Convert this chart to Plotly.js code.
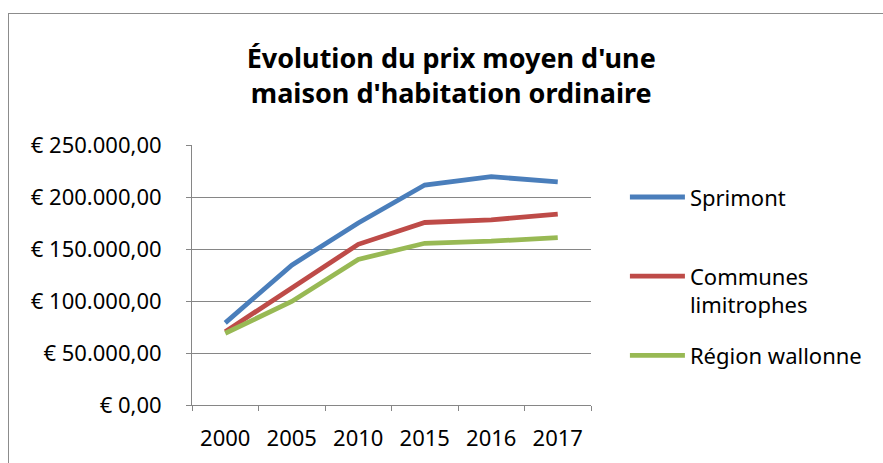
<!DOCTYPE html>
<html>
<head>
<meta charset="utf-8">
<script src="https://cdn.plot.ly/plotly-3.0.1.min.js"></script>
<style>
  html, body { margin: 0; padding: 0; background: #fff; overflow: hidden; }
  #frame { position: absolute; left: 8px; top: 13px; width: 900px; height: 500px; border: 1px solid #8c8c8c; box-sizing: border-box; }
  #chart { position: absolute; left: 0; top: 0; width: 883px; height: 463px; }
</style>
</head>
<body>
<div id="frame"></div>
<div id="chart"></div>
<script>
const years = ["2000", "2005", "2010", "2015", "2016", "2017"];
const sprimont = [79000, 134500, 175000, 211500, 219500, 214500];
const communes = [70500, 112000, 154500, 175500, 178000, 183500];
const wallonie = [69000, 99500, 140000, 155500, 157500, 161000];
const seriesNames = ["Sprimont<br>\u00a0", "Communes<br>limitrophes", "Région wallonne"];
const seriesColors = ["#4A7EBB", "#BE4B48", "#98B954"];
const yTicks = [0, 50000, 100000, 150000, 200000, 250000];

function euro(v) {
  const [intPart, dec] = v.toFixed(2).split(".");
  return "€ " + intPart.replace(/\B(?=(\d{3})+(?!\d))/g, ".") + "," + dec;
}
const yTickText = yTicks.map(euro);

const font = "'Noto Sans', 'DejaVu Sans', sans-serif";
const fs = 22;
const allSeries = [sprimont, communes, wallonie];
const traces = allSeries.map((vals, i) => ({
  type: "scatter",
  mode: "lines",
  x: years,
  y: vals,
  name: seriesNames[i],
  legendgroup: "g" + i,
  line: { color: seriesColors[i], width: 4.8 }
}));

const layout = {
  width: 883,
  height: 463,
  paper_bgcolor: "rgba(0,0,0,0)",
  plot_bgcolor: "rgba(0,0,0,0)",
  margin: { l: 192, r: 292, t: 145, b: 58 },
  font: { family: font, size: fs, color: "#000" },
  title: {
    text: "<b>Évolution du prix moyen d'une<br>maison d'habitation ordinaire</b>",
    font: { family: font, size: 27, color: "#000" },
    x: 0.511, xanchor: "center", xref: "container",
    y: 0.853, yanchor: "top", yref: "container"
  },
  xaxis: {
    type: "category",
    range: [-0.5, 5.5],
    tickson: "boundaries",
    ticks: "outside",
    ticklen: 5,
    tickcolor: "#868686",
    showline: true,
    linecolor: "#868686",
    linewidth: 1,
    showgrid: false,
    zeroline: false,
    ticklabelstandoff: 14,
    tickfont: { family: font, size: fs },
    fixedrange: true
  },
  yaxis: {
    range: [0, 250000],
    tickvals: yTicks,
    ticktext: yTickText,
    ticks: "outside",
    ticklen: 5,
    tickcolor: "#868686",
    showline: true,
    linecolor: "#868686",
    linewidth: 1,
    showgrid: true,
    gridcolor: "#868686",
    gridwidth: 1,
    zeroline: false,
    ticklabelstandoff: 20,
    tickfont: { family: font, size: fs },
    fixedrange: true
  },
  showlegend: true,
  legend: {
    x: 1.085,
    xanchor: "left",
    y: 0.88,
    yanchor: "top",
    valign: "top",
    itemwidth: 55,
    tracegroupgap: 19,
    bgcolor: "rgba(0,0,0,0)",
    font: { family: font, size: fs, color: "#000" }
  }
};

Plotly.newPlot("chart", traces, layout, { displayModeBar: false, staticPlot: true });
</script>
</body>
</html>
